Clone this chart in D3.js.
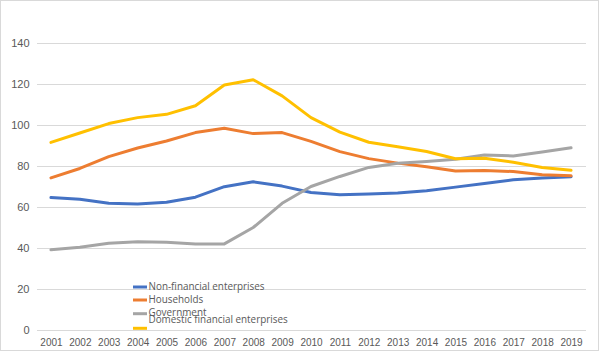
<!DOCTYPE html>
<html>
<head>
<meta charset="utf-8">
<script src="https://cdn.jsdelivr.net/npm/d3@7"></script>
<style>
  html, body { margin: 0; padding: 0; background: #fff; }
  svg { display: block; font-family: "Open Sans", "Liberation Sans", sans-serif; }
</style>
</head>
<body>
<svg id="chart" width="600" height="352"></svg>
<script>
const years = ['2001','2002','2003','2004','2005','2006','2007','2008','2009','2010',
  '2011','2012','2013','2014','2015','2016','2017','2018','2019']

const seriesNames = [
  'Non-financial enterprises',
  'Households',
  'Government',
  'Domestic financial enterprises'
]

const seriesColors = ['#4472c4', '#ed7d31', '#a5a5a5', '#ffc000']

const nonFinancial = [64.6, 63.8, 61.8, 61.5, 62.3, 64.8, 69.9, 72.3, 70.2, 67.1,
  66.0, 66.3, 66.8, 67.9, 69.7, 71.5, 73.3, 74.2, 74.8]
const households = [74.2, 78.8, 84.6, 88.8, 92.2, 96.3, 98.4, 95.8, 96.3, 92.0,
  87.0, 83.6, 81.4, 79.6, 77.6, 77.8, 77.3, 75.7, 75.2]
const government = [39.1, 40.4, 42.3, 43.0, 42.8, 42.0, 42.0, 50.0, 61.8, 70.0,
  74.9, 79.3, 81.3, 82.2, 83.3, 85.4, 84.9, 86.8, 88.9]
const domesticFinancial = [91.5, 96.1, 100.7, 103.6, 105.2, 109.4, 119.5, 122.1, 114.2, 103.6,
  96.5, 91.6, 89.4, 87.1, 83.5, 83.8, 81.8, 79.3, 77.9]

const yTicks = [0, 20, 40, 60, 80, 100, 120, 140]

const series = seriesNames.map((name, i) => ({
  name: name,
  color: seriesColors[i],
  values: [nonFinancial, households, government, domesticFinancial][i]
}))

const svg = d3.select('#chart')
const plot = { left: 36.5, right: 585.5, top: 43, bottom: 330 }

// chart border
svg.append('rect')
  .attr('x', 0.5).attr('y', 0.5)
  .attr('width', 598).attr('height', 350)
  .attr('fill', 'none')
  .attr('stroke', '#d9d9d9')

const x = d3.scalePoint()
  .domain(years)
  .range([plot.left, plot.right])
  .padding(0.5)

const y = d3.scaleLinear()
  .domain([0, 140])
  .range([plot.bottom, plot.top])

// gridlines + y labels
const yAxis = svg.append('g')
  .attr('transform', `translate(${plot.left},0)`)
  .call(d3.axisLeft(y).tickValues(yTicks).tickSize(-(plot.right - plot.left)).tickPadding(7))
yAxis.select('.domain').remove()
yAxis.selectAll('.tick line')
  .attr('stroke', '#d9d9d9')
  .attr('shape-rendering', 'crispEdges')
yAxis.selectAll('.tick text')
  .attr('fill', '#595959')
  .attr('font-size', '11px')
  .attr('x', -7)

// x labels
const xAxis = svg.append('g')
  .attr('transform', `translate(0,${plot.bottom})`)
  .call(d3.axisBottom(x).tickSize(0).tickPadding(9))
xAxis.select('.domain').remove()
xAxis.selectAll('.tick text')
  .attr('fill', '#595959')
  .attr('font-size', '10px')

const line = d3.line()
  .x((d, i) => x(years[i]))
  .y(d => y(d))

svg.append('g').selectAll('path')
  .data(series)
  .join('path')
  .attr('d', d => line(d.values))
  .attr('fill', 'none')
  .attr('stroke', d => d.color)
  .attr('stroke-width', 3)
  .attr('stroke-linejoin', 'round')
  .attr('stroke-linecap', 'round')

// legend (crowded and overlapping, as in the original)
const legendY = [287, 300, 313.7, 328.3]
const legendTextY = [286.5, 300, 313, 320]
const legend = svg.append('g')
series.forEach((s, i) => {
  legend.append('line')
    .attr('x1', 133).attr('x2', 147)
    .attr('y1', legendY[i]).attr('y2', legendY[i])
    .attr('stroke', s.color)
    .attr('stroke-width', 3)
  legend.append('text')
    .attr('x', 148.5)
    .attr('y', legendTextY[i])
    .attr('dy', '0.35em')
    .attr('fill', '#595959')
    .attr('font-size', '9.9px')
    .text(s.name)
})
</script>
</body>
</html>
